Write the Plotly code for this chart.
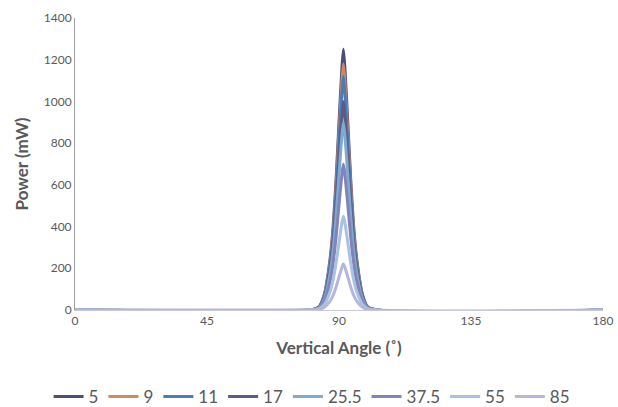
import plotly.graph_objects as go

angles = [0, 80, 83, 85, 87, 88, 89, 90, 91, 91.5, 92, 93, 94, 95, 96, 98, 100, 180]

series_names = ["5", "9", "11", "17", "25.5", "37.5", "55", "85"]
p5 = [0, 0, 12, 75, 250, 400, 625, 900, 1162, 1250, 1162, 900, 625, 400, 250, 75, 12, 0]
p9 = [0, 0, 12, 71, 236, 378, 590, 850, 1097, 1180, 1097, 850, 590, 378, 236, 71, 12, 0]
p11 = [0, 0, 11, 67, 224, 358, 560, 806, 1042, 1120, 1042, 806, 560, 358, 224, 67, 11, 0]
p17 = [0, 0, 10, 60, 200, 320, 500, 720, 930, 1000, 930, 720, 500, 320, 200, 60, 10, 0]
p25_5 = [0, 0, 9, 54, 180, 288, 450, 648, 837, 900, 837, 648, 450, 288, 180, 54, 9, 0]
p37_5 = [0, 0, 7, 42, 140, 224, 350, 504, 651, 700, 651, 504, 350, 224, 140, 42, 7, 0]
p55 = [0, 0, 5, 27, 90, 144, 225, 324, 419, 450, 419, 324, 225, 144, 90, 27, 5, 0]
p85 = [0, 0, 2, 13, 44, 70, 110, 158, 205, 220, 205, 158, 110, 70, 44, 13, 2, 0]
series_values = [p5, p9, p11, p17, p25_5, p37_5, p55, p85]
colors = ["#4b4f7a", "#d08a62", "#4a7cb8", "#5a5c86", "#7eaad2", "#8283b6", "#a9c2e2", "#b6b5dc"]

x_ticks = [0, 45, 90, 135, 180]
y_ticks = [0, 200, 400, 600, 800, 1000, 1200, 1400]

fig = go.Figure()
for name, vals, c in zip(series_names, series_values, colors):
    fig.add_trace(go.Scatter(x=angles, y=vals, mode="lines", name=name,
                             line=dict(color=c, width=3, shape="spline", smoothing=0.6)))

font_family = "Lato, 'Open Sans', sans-serif"
fig.update_layout(
    width=618, height=407,
    margin=dict(l=75, r=15, t=18, b=97, autoexpand=False),
    paper_bgcolor="white", plot_bgcolor="white",
    font=dict(family=font_family, color="#595959"),
    showlegend=True,
    legend=dict(orientation="h", xref="container", yref="container",
                x=0.505, xanchor="center", y=0.025, yanchor="middle",
                font=dict(size=17, color="#595959"), itemwidth=30, tracegroupgap=0),
    xaxis=dict(range=[0, 180], tickvals=x_ticks, showgrid=False, zeroline=False,
               showline=True, linecolor="#c8c8d8", linewidth=1, ticks="",
               tickfont=dict(size=12, color="#595959"),
               title=dict(text="<b>Vertical Angle (˚)</b>", font=dict(size=17, color="#595959"), standoff=14)),
    yaxis=dict(range=[0, 1400], tickvals=y_ticks, showgrid=False, zeroline=False,
               showline=True, linecolor="#a0a0a0", linewidth=1, ticks="",
               tickfont=dict(size=12, color="#595959"),
               title=dict(text="<b>Power (mW)</b>", font=dict(size=17, color="#595959"), standoff=10)),
)

fig.write_html("out.html")
